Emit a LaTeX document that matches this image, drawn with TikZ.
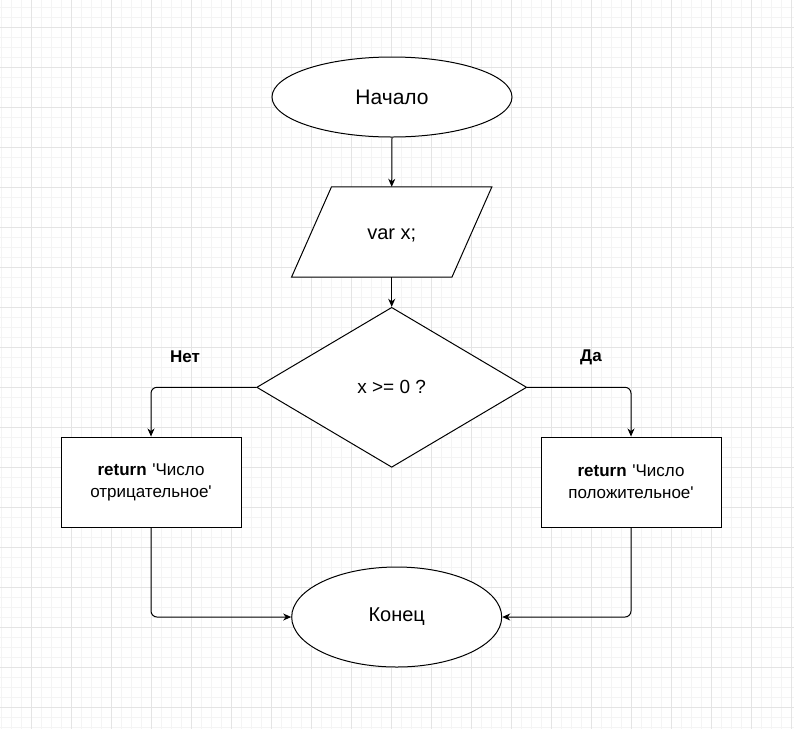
\documentclass[tikz,border=0pt]{standalone}
\usepackage{fontspec}
\setmainfont{Liberation Sans}[Ligatures=TeXOff]
\usetikzlibrary{shapes.geometric,arrows.meta}
\definecolor{gridminor}{RGB}{244,244,244}
\definecolor{gridmajor}{RGB}{228,228,228}
\tikzset{
  every node/.style={font=\fontsize{19}{23}\selectfont},
  shapeline/.style={draw=black, line width=1pt, fill=white},
  term/.style={shapeline, ellipse, inner sep=0pt},
  procbox/.style={shapeline, rectangle, minimum width=180pt, minimum height=90pt, text width=170pt, align=center, inner sep=0pt, font=\fontsize{17}{22}\selectfont},
  decision/.style={shapeline, diamond, minimum width=270pt, minimum height=160pt, inner sep=0pt},
  arr/.style={draw=black, line width=1pt, -{Stealth[length=8pt,width=7pt,inset=2.5pt]}},
  edgelabel/.style={font=\fontsize{17}{20}\selectfont\bfseries}
}
\begin{document}
\begin{tikzpicture}[x=1pt,y=-1pt]
\useasboundingbox (0,0) rectangle (794,729);
\fill[white] (0,0) rectangle (794,729);
% grid
\foreach \x in {1,11,...,791} \draw[gridminor, line width=1pt] (\x,0) -- (\x,729);
\foreach \y in {7,17,...,727} \draw[gridminor, line width=1pt] (0,\y) -- (794,\y);
\foreach \x in {31,71,...,791} \draw[gridmajor, line width=1pt] (\x,0) -- (\x,729);
\foreach \y in {27,67,...,727} \draw[gridmajor, line width=1pt] (0,\y) -- (794,\y);

% nodes
\node[term, minimum width=240pt, minimum height=80pt, font=\fontsize{21}{25}\selectfont] (start) at (392,97) {Начало};
\node[minimum width=200pt, minimum height=90pt, inner sep=0pt] (inp) at (391.7,232) {};
\draw[shapeline] (inp.south west) -- ([xshift=-40pt]inp.south east) -- (inp.north east) -- ([xshift=40pt]inp.north west) -- cycle;
\node[font=\fontsize{20}{24}\selectfont] (inptext) at ([yshift=-3pt]inp.center) {var x;};
\node[decision] (dec) at (391.7,387.3) {x >= 0 ?};
\node[procbox] (neg) at (151,482) {\textbf{return} 'Число\\отрицательное'};
\node[procbox] (pos) at (631,482) {\textbf{return} 'Число\\положительное'};
\node[term, minimum width=210pt, minimum height=100pt, font=\fontsize{20}{24}\selectfont] (stop) at (396.7,617) {Конец};

% labels
\node[edgelabel] (no) at (185,357) {Нет};
\node[edgelabel] (yes) at (591,357) {Да};

% connectors
\draw[arr] (start.south) -- (inp.north);
\draw[arr] (inp.south) -- (dec.north);
\draw[arr, rounded corners=6pt] (dec.west) -| (neg.north);
\draw[arr, rounded corners=6pt] (dec.east) -| (pos.north);
\draw[arr, rounded corners=6pt] (neg.south) |- (stop.west);
\draw[arr, rounded corners=6pt] (pos.south) |- (stop.east);
\end{tikzpicture}
\end{document}
